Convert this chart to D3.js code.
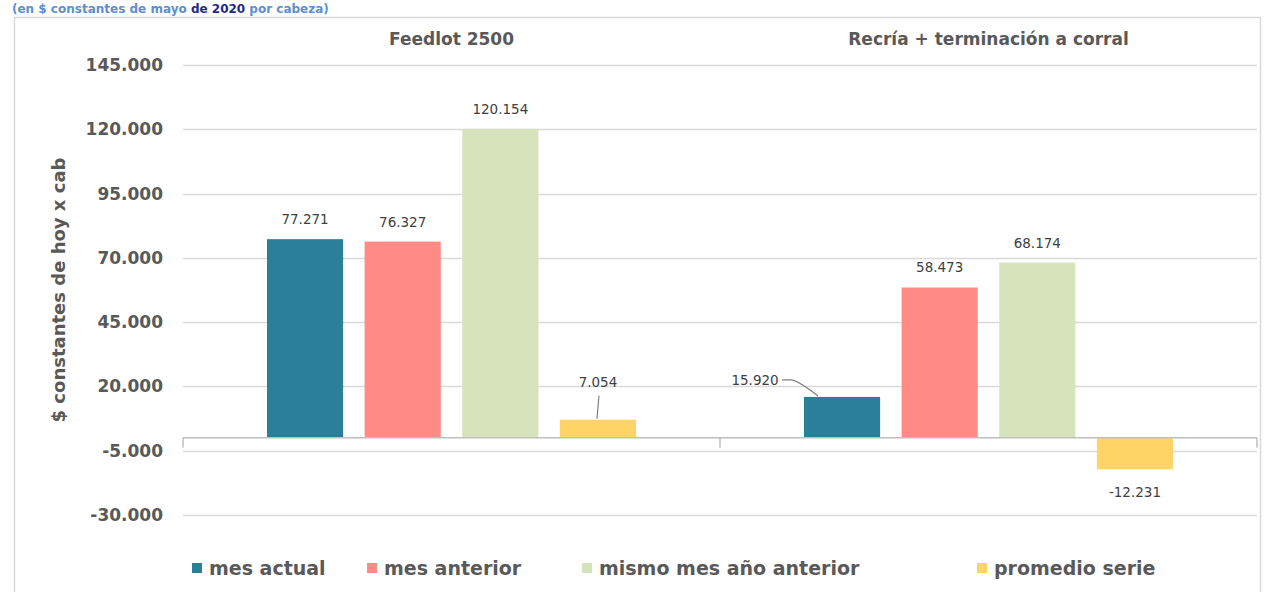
<!DOCTYPE html>
<html>
<head>
<meta charset="utf-8">
<script src="https://cdn.jsdelivr.net/npm/d3@7"></script>
<style>
  html, body { margin: 0; padding: 0; background: #ffffff; }
  svg { display: block; font-family: "DejaVu Sans", sans-serif; }
</style>
</head>
<body>
<svg id="chart" width="1284" height="592"></svg>
<script>
// Margen bruto por cabeza, en $ constantes
const categories = ["Feedlot 2500", "Recría + terminación a corral"];
const seriesNames = ["mes actual", "mes anterior", "mismo mes año anterior", "promedio serie"];
const mesActual = [77271, 15920];
const mesAnterior = [76327, 58473];
const mismoMesAnioAnterior = [120154, 68174];
const promedioSerie = [7054, -12231];
const yTicks = [-30000, -5000, 20000, 45000, 70000, 95000, 120000, 145000];
const colors = ["#2b7f99", "#ff8a86", "#d7e3bb", "#ffd466"];

const seriesValues = [mesActual, mesAnterior, mismoMesAnioAnterior, promedioSerie];

const svg = d3.select("#chart");
// Separador de miles con punto y guion simple para negativos
const fmt = v => d3.format(",")(v).replace(/,/g, ".").replace("\u2212", "-");

// Marco del gráfico
svg.append("rect")
  .attr("x", 14.5).attr("y", 17.5)
  .attr("width", 1246).attr("height", 600)
  .attr("fill", "#ffffff").attr("stroke", "#d9d9d9").attr("stroke-width", 1.5);

// Subtítulo
const sub = svg.append("text")
  .attr("x", 12).attr("y", 13)
  .attr("font-size", 12).attr("font-weight", "bold")
  .attr("fill", "#5b8ed3");
sub.append("tspan").text("(en $ constantes de mayo ");
sub.append("tspan").attr("fill", "#1f2a8a").text("de 2020");
sub.append("tspan").text(" por cabeza)");

const left = 183, right = 1257;
const y = d3.scaleLinear().domain([-30000, 145000]).range([515, 65]);
const x0 = d3.scaleBand().domain(categories).range([left, right]).padding(0);
const x1 = d3.scaleBand().domain(seriesNames).range([0, x0.bandwidth()])
  .paddingInner(0.22).paddingOuter(0.86);

// Líneas de división
svg.append("g")
  .selectAll("line").data(yTicks).join("line")
  .attr("x1", left).attr("x2", right)
  .attr("y1", d => Math.round(y(d)) + 0.5).attr("y2", d => Math.round(y(d)) + 0.5)
  .attr("stroke", "#d9d9d9").attr("stroke-width", 1.5);

// Eje vertical (etiquetas)
const yAxis = svg.append("g")
  .attr("transform", `translate(${left - 20},0)`)
  .call(d3.axisLeft(y).tickValues(yTicks).tickSize(0).tickPadding(0).tickFormat(fmt));
yAxis.select(".domain").remove();
yAxis.selectAll("text")
  .attr("font-family", "DejaVu Sans, sans-serif")
  .attr("font-size", 17).attr("font-weight", "bold").attr("fill", "#595959");

// Título del eje vertical
svg.append("text")
  .attr("transform", "translate(65,290) rotate(-90)")
  .attr("text-anchor", "middle")
  .attr("font-size", 18).attr("font-weight", "bold").attr("fill", "#595959")
  .text("$ constantes de hoy x cab");

// Títulos de categoría
svg.append("g").selectAll("text").data(categories).join("text")
  .attr("x", d => x0(d) + x0.bandwidth() / 2)
  .attr("y", 45)
  .attr("text-anchor", "middle")
  .attr("font-size", 17).attr("font-weight", "bold").attr("fill", "#595959")
  .text(d => d);

// Barras
const groups = svg.append("g").selectAll("g").data(categories).join("g")
  .attr("transform", d => `translate(${x0(d)},0)`);

groups.selectAll("rect")
  .data((c, ci) => seriesNames.map((s, si) => ({ s, si, v: seriesValues[si][ci] })))
  .join("rect")
  .attr("x", d => x1(d.s))
  .attr("width", x1.bandwidth())
  .attr("y", d => y(Math.max(0, d.v)))
  .attr("height", d => Math.abs(y(d.v) - y(0)))
  .attr("fill", d => colors[d.si]);

// Eje de categorías en cero
const xAxis = svg.append("g")
  .attr("transform", `translate(0,${y(0)})`);
xAxis.append("line")
  .attr("x1", left).attr("x2", right)
  .attr("stroke", "#bfbfbf").attr("stroke-width", 1.5);
xAxis.selectAll("line.tick").data([left, x0(categories[1]), right]).join("line")
  .attr("class", "tick")
  .attr("x1", d => d).attr("x2", d => d)
  .attr("y1", 0).attr("y2", 10)
  .attr("stroke", "#bfbfbf").attr("stroke-width", 1.5);

// Etiquetas de datos
const labelOffsets = {
  // [dx, dy] del rótulo respecto del centro superior (o inferior) de la barra
  "0-3": [0, -33],
  "1-0": [-87, -12]
};
const labels = [];
categories.forEach((c, ci) => {
  seriesNames.forEach((s, si) => {
    const v = seriesValues[si][ci];
    const bx = x0(c) + x1(s);
    labels.push({ key: `${ci}-${si}`, v, bx, cx: bx + x1.bandwidth() / 2, top: y(v) });
  });
});

const lg = svg.append("g")
  .attr("font-size", 13.5).attr("fill", "#404040").attr("text-anchor", "middle");

labels.forEach(d => {
  const off = labelOffsets[d.key];
  let lx, ly;
  if (off) {
    lx = d.cx + off[0];
    ly = d.top + off[1];
  } else if (d.v >= 0) {
    lx = d.cx; ly = d.top - 15;
  } else {
    lx = d.cx; ly = d.top + 28;
  }
  lg.append("text").attr("x", lx).attr("y", ly).text(fmt(d.v));
  if (d.key === "0-3") {
    lg.append("line")
      .attr("x1", d.cx + 1).attr("y1", ly + 9)
      .attr("x2", d.cx - 1).attr("y2", d.top - 1)
      .attr("stroke", "#7f7f7f").attr("stroke-width", 1.2);
  }
  if (d.key === "1-0") {
    lg.append("path")
      .attr("d", `M${lx + 27},${ly - 5} L${lx + 36},${ly - 5} Q${lx + 42},${ly - 5} ${d.bx + 14},${d.top - 1}`)
      .attr("fill", "none").attr("stroke", "#7f7f7f").attr("stroke-width", 1.2);
  }
});

// Leyenda
const legendX = [192, 367, 582, 977];
const leg = svg.append("g").selectAll("g").data(seriesNames).join("g")
  .attr("transform", (d, i) => `translate(${legendX[i]},568)`);
leg.append("rect")
  .attr("x", 0).attr("y", -5).attr("width", 10).attr("height", 10)
  .attr("fill", (d, i) => colors[i]);
leg.append("text")
  .attr("x", 17).attr("y", 7)
  .attr("font-size", 19).attr("font-weight", "bold").attr("fill", "#595959")
  .text(d => d);
</script>
</body>
</html>
